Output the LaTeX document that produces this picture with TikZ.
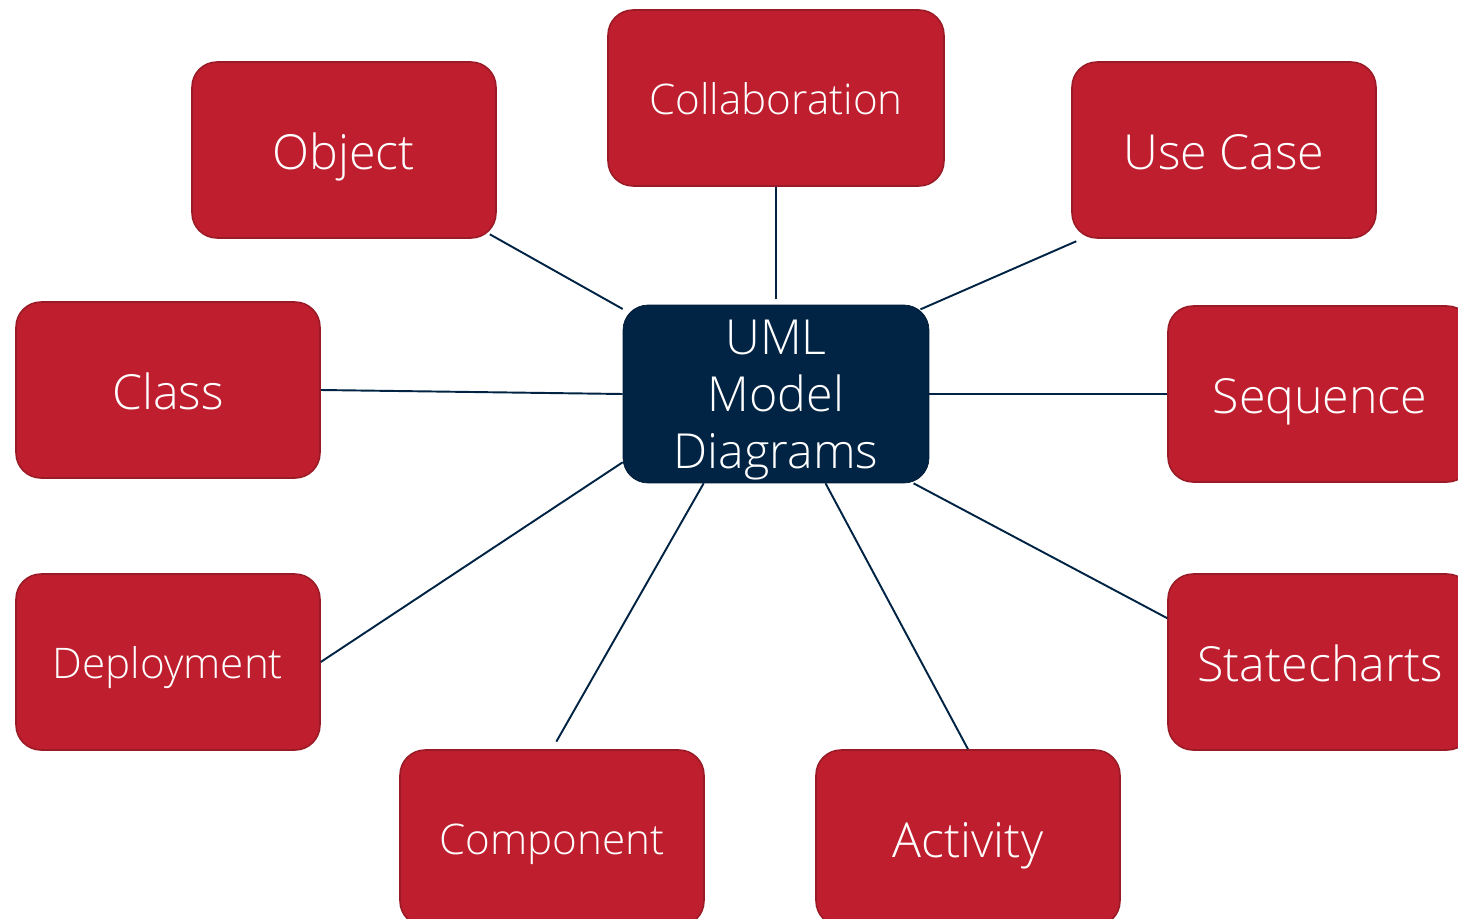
\documentclass[tikz,border=0pt]{standalone}
\usepackage{fontspec}
\IfFontExistsTF{Open Sans Light}{\setmainfont{Open Sans Light}}{\setmainfont{Open Sans}}
\definecolor{umlred}{HTML}{BE1E2D}
\definecolor{umlredline}{HTML}{9A1A25}
\definecolor{umlnavy}{HTML}{012344}
\begin{document}
\begin{tikzpicture}[x=0.02cm, y=-0.02cm,
    kind/.style={draw=umlredline, line width=0.9pt, fill=umlred, rounded corners=0.5cm,
        minimum width=6.08cm, minimum height=3.52cm, text=white,
        text height=24pt, text depth=2pt, font=\fontsize{27.5}{32.5}\selectfont},
    small/.style={text height=21pt, text depth=2pt, font=\fontsize{24}{28}\selectfont},
    hub/.style={fill=umlnavy, draw=umlnavy!80!black, rounded corners=0.5cm,
        minimum width=6.12cm, minimum height=3.56cm, text=white, align=center,
        inner sep=0pt, text depth=0pt, font=\fontsize{27.5}{32.5}\selectfont},
    link/.style={draw=umlnavy, line width=1.1pt}]
    \useasboundingbox (0,0) rectangle (1458,919);
    \node[hub] (uml) at (776,394) {UML\\Model\\Diagrams};
    \node[kind] (object) at (344,150) {Object};
    \node[kind, small, minimum width=6.72cm] (collab) at (776,98) {Collaboration};
    \node[kind] (usecase) at (1224,150) {Use Case};
    \node[kind] (class) at (168,390) {Class};
    \node[kind] (sequence) at (1320,394) {Sequence};
    \node[kind, small] (deploy) at (168,662) {Deployment};
    \node[kind] (state) at (1320,662) {Statecharts};
    \node[kind, small] (comp) at (552,838) {Component};
    \node[kind] (activity) at (968,838) {Activity};
    \draw[link, shorten >=-4.5pt] (uml.151.5) -- (object.-30.3);
    \draw[link, shorten <=3pt] (uml.north) -- (collab.south);
    \draw[link, shorten <=-5.5pt, shorten >=3.5pt] (uml.30) -- (usecase.212);
    \draw[link] (uml.west) -- (class.east);
    \draw[link] (uml.east) -- (sequence.west);
    \draw[link] (uml.204) -- (deploy.east);
    \draw[link] (uml.-33) -- (state.164.6);
    \draw[link, shorten >=5pt] (uml.-129) -- (comp.north);
    \draw[link] (uml.-61.2) -- (activity.north);
\end{tikzpicture}
\end{document}
